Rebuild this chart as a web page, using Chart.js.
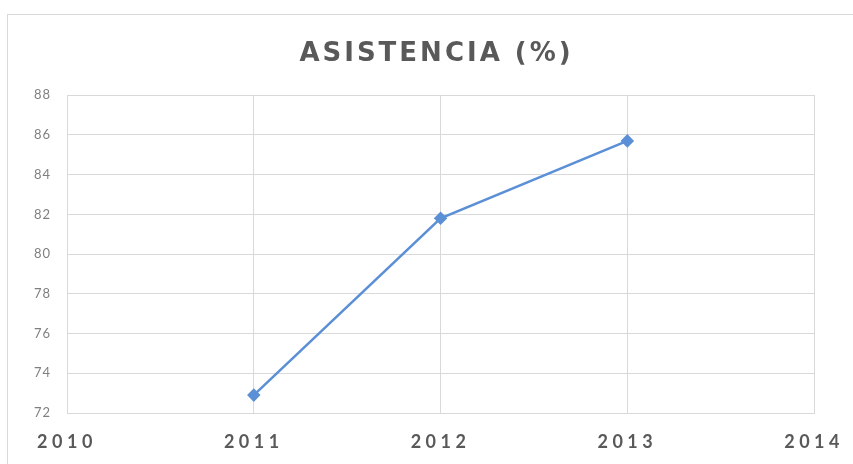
<!DOCTYPE html>
<html>
<head>
<meta charset="utf-8">
<script src="https://cdn.jsdelivr.net/npm/chart.js@4.4.1/dist/chart.umd.min.js"></script>
<style>
  html, body { margin: 0; padding: 0; background: #fff; }
  #frame { position: absolute; left: 7px; top: 14px; width: 900px; height: 500px; border: 1px solid #d9d9d9; }
  #wrap { position: absolute; left: 0; top: 0; width: 853px; height: 464px; }
</style>
</head>
<body>
<div id="frame"></div>
<div id="wrap"><canvas id="chart"></canvas></div>
<script>
const chartTitle = "ASISTENCIA (%)";
const years = [2011, 2012, 2013];
const attendance = [72.9, 81.8, 85.7];
const xMin = 2010, xMax = 2014;
const yMin = 72, yMax = 88, yStep = 2;

// wrap a draw function so its text gets its own letter spacing (and shift)
function spaced(obj, fnName, amount, dx) {
  if (!obj || obj["_spaced_" + fnName]) return;
  const orig = obj[fnName];
  obj[fnName] = function () {
    const c = this.ctx || this.chart.ctx;
    c.save();
    c.letterSpacing = amount;
    if (dx) c.translate(dx, 0);
    orig.apply(this, arguments);
    c.restore();
  };
  obj["_spaced_" + fnName] = true;
}

const spacing = {
  id: "spacing",
  beforeDraw(chart) {
    // title sits a bit right of the plot centre in the original
    spaced(chart.titleBlock, "draw", "3px", 19);
    spaced(chart.scales.x, "drawLabels", "4.5px");
    spaced(chart.scales.y, "drawLabels", "1px");
  }
};

const ctx = document.getElementById("chart").getContext("2d");
new Chart(ctx, {
  type: "scatter",
  data: {
    datasets: [{
      label: chartTitle,
      data: years.map((y, i) => ({ x: y, y: attendance[i] })),
      showLine: true,
      borderColor: "#5b8fd6",
      backgroundColor: "#5b8fd6",
      borderWidth: 2.5,
      pointStyle: "rectRot",
      pointRadius: 5,
      pointHoverRadius: 5
    }]
  },
  options: {
    responsive: true,
    maintainAspectRatio: false,
    animation: false,
    layout: { padding: { left: 20, right: 38, top: 0, bottom: 0 } },
    plugins: {
      legend: { display: false },
      tooltip: { enabled: false },
      title: {
        display: true,
        text: chartTitle,
        color: "#595959",
        font: { family: "DejaVu Sans", size: 26, weight: "bold" },
        padding: { top: 39, bottom: 25 }
      }
    },
    scales: {
      x: {
        type: "linear",
        min: xMin,
        max: xMax,
        afterFit(scale) { scale.height = 51; },
        grid: { color: "#d9d9d9", drawTicks: false },
        border: { color: "#d9d9d9" },
        ticks: {
          stepSize: 1,
          padding: 18,
          color: "#595959",
          font: { family: "Lato", size: 18, weight: "bold" },
          callback: v => String(v)
        }
      },
      y: {
        min: yMin,
        max: yMax,
        afterFit(scale) { scale.width = 47; },
        grid: { color: "#d9d9d9", drawTicks: false },
        border: { color: "#d9d9d9" },
        ticks: {
          stepSize: yStep,
          padding: 16,
          color: "#7f7f7f",
          font: { family: "Lato", size: 13 }
        }
      }
    }
  },
  plugins: [spacing]
});
</script>
</body>
</html>
